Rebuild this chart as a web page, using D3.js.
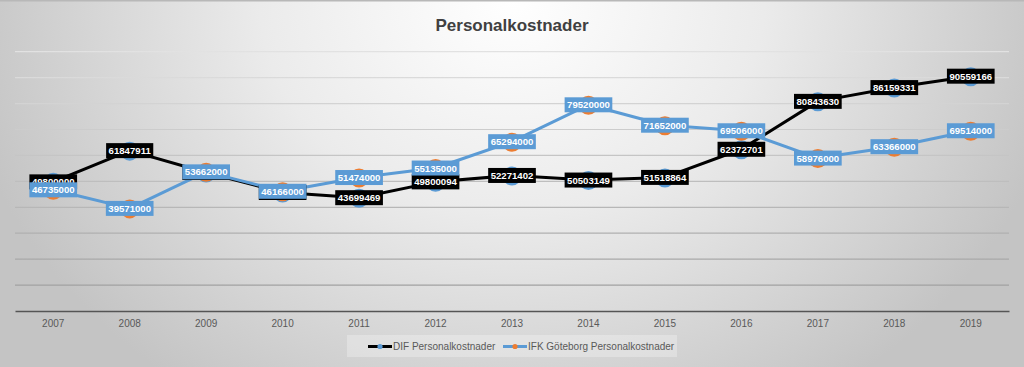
<!DOCTYPE html>
<html><head><meta charset="utf-8">
<script src="https://cdn.jsdelivr.net/npm/d3@7"></script>
<style>html,body{margin:0;padding:0;overflow:hidden;background:#fff}</style>
</head><body>
<script>
const years = ["2007","2008","2009","2010","2011","2012","2013","2014","2015","2016","2017","2018","2019"];
const difValues = [49800000,61847911,53400000,45700000,43699469,49800094,52271402,50503149,51518864,62372701,80843630,86159331,90559166];
const ifkValues = [46735000,39571000,53662000,46166000,51474000,55135000,65294000,79520000,71652000,69506000,58976000,63366000,69514000];
const yTicks = [0,10000000,20000000,30000000,40000000,50000000,60000000,70000000,80000000,90000000,100000000];
const seriesNames = ["DIF Personalkostnader","IFK Göteborg Personalkostnader"];
const title = "Personalkostnader";

const W = 1024, H = 367;
const svg = d3.select("body").append("svg").attr("width", W).attr("height", H);
const defs = svg.append("defs");
const rg = defs.append("radialGradient").attr("id","bg").attr("gradientUnits","userSpaceOnUse")
  .attr("cx",512).attr("cy",0).attr("r",560)
  .attr("gradientTransform","translate(512,0) scale(1,0.85) translate(-512,0)");
rg.append("stop").attr("offset",0).attr("stop-color","#ffffff");
rg.append("stop").attr("offset",0.45).attr("stop-color","#ebebeb");
rg.append("stop").attr("offset",1).attr("stop-color","#c4c4c4");
const lg = defs.append("linearGradient").attr("id","grid").attr("gradientUnits","userSpaceOnUse")
  .attr("x1",0).attr("y1",50).attr("x2",0).attr("y2",312);
lg.append("stop").attr("offset",0).attr("stop-color","#e2e2e2");
lg.append("stop").attr("offset",1).attr("stop-color","#9a9a9a");

svg.append("rect").attr("width",W).attr("height",H).attr("fill","url(#bg)");
svg.append("line").attr("x1",0).attr("x2",W).attr("y1",0.75).attr("y2",0.75).attr("stroke","#b8b8b8").attr("stroke-width",1.5);

const x = d3.scaleBand().domain(years).range([15,1009]);
const y = d3.scaleLinear().domain([0,100000000]).range([311,51.7]);
const cx = d => x(d) + x.bandwidth()/2;

// gridlines
svg.append("g").selectAll("line").data(yTicks.slice(1)).join("line")
  .attr("x1",15).attr("x2",1009).attr("y1",d=>y(d)).attr("y2",d=>y(d))
  .attr("stroke","url(#grid)").attr("stroke-width",1.2);

// x axis
const xAxis = svg.append("g").attr("transform","translate(0,311)")
  .call(d3.axisBottom(x).tickSize(0).tickPadding(9));
xAxis.select(".domain").attr("stroke","#555").attr("stroke-width",1.6);
xAxis.selectAll("text").attr("font-family","Liberation Sans, Arial, sans-serif").attr("font-size",10).attr("fill","#595959");

// title
svg.append("text").attr("x",512).attr("y",31).attr("text-anchor","middle")
  .attr("font-family","Liberation Sans, Arial, sans-serif").attr("font-weight","bold").attr("font-size",17)
  .attr("fill","#404040").text(title);

const line = d3.line().x((d,i)=>cx(years[i])).y(d=>y(d));
const series = [
  {vals: difValues, stroke:"#000000", marker:"#5B9BD5", lab:"#000000"},
  {vals: ifkValues, stroke:"#5B9BD5", marker:"#ED7D31", lab:"#5B9BD5"}
];
series.forEach(s=>{
  svg.append("path").datum(s.vals).attr("d",line).attr("fill","none")
    .attr("stroke",s.stroke).attr("stroke-width",3).attr("stroke-linejoin","round");
  svg.append("g").selectAll("circle").data(s.vals).join("circle")
    .attr("cx",(d,i)=>cx(years[i])).attr("cy",d=>y(d)+0.5).attr("r",9.5).attr("fill",s.marker);
});
series.forEach(s=>{
  const g = svg.append("g").selectAll("g").data(s.vals).join("g")
    .attr("transform",(d,i)=>`translate(${cx(years[i])},${y(d)})`);
  const r = g.append("rect").attr("fill",s.lab);
  const t = g.append("text").attr("text-anchor","middle").attr("y",3.6)
    .attr("font-family","Liberation Sans, Arial, sans-serif").attr("font-weight","bold").attr("font-size",9.6)
    .attr("fill","#ffffff").text(d=>d);
  t.each(function(){
    const w = this.getComputedTextLength();
    d3.select(this.parentNode).select("rect").attr("x",-w/2-2.5).attr("width",w+5).attr("y",-7.5).attr("height",15);
  });
});

// legend
const leg = svg.append("g");
leg.append("rect").attr("x",347).attr("y",335).attr("width",330).attr("height",22).attr("fill","#ffffff").attr("opacity",0.28);
const items = [{x:368, name:seriesNames[0], s:series[0]},{x:503, name:seriesNames[1], s:series[1]}];
items.forEach(it=>{
  leg.append("line").attr("x1",it.x).attr("x2",it.x+24).attr("y1",346.5).attr("y2",346.5)
    .attr("stroke",it.s.stroke).attr("stroke-width",3);
  leg.append("circle").attr("cx",it.x+12).attr("cy",346.5).attr("r",2.6).attr("fill",it.s.marker);
  leg.append("text").attr("x",it.x+25).attr("y",350).attr("font-family","Liberation Sans, Arial, sans-serif")
    .attr("font-size",10).attr("fill","#595959").text(it.name);
});
</script>
</body></html>
